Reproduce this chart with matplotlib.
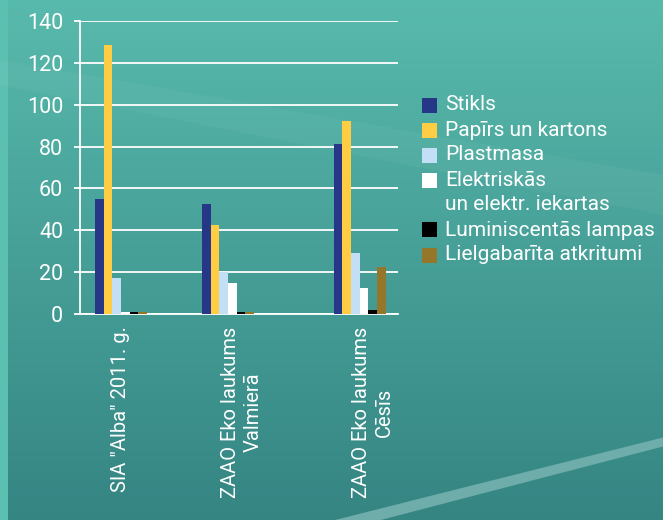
import numpy as np
import matplotlib
matplotlib.use("Agg")
import matplotlib.pyplot as plt
from matplotlib.patches import Rectangle, Polygon
from matplotlib.transforms import offset_copy

plt.rcParams['font.family'] = ['Roboto', 'DejaVu Sans']

categories = ['SIA "Alba" 2011. g.', 'ZAAO Eko laukums\nValmierā', 'ZAAO Eko laukums\nCēsīs']
series = ['Stikls', 'Papīrs un kartons', 'Plastmasa', 'Elektriskās\nun elektr. iekartas',
          'Luminiscentās lampas', 'Lielgabarīta atkritumi']
stikls = [55, 52.5, 81]
papirs = [128.5, 42.5, 92]
plastmasa = [17, 20, 29]
elektr = [1, 15, 12.5]
lampas = [1, 1, 2]
lielgab = [1, 1, 22.5]
yticks = [0, 20, 40, 60, 80, 100, 120, 140]

values = [stikls, papirs, plastmasa, elektr, lampas, lielgab]
colors = ['#253786', '#ffcd44', '#c3dff5', '#ffffff', '#000000', '#94772a']

W, H = 663, 520
fig = plt.figure(figsize=(W / 100, H / 100), dpi=100)

# background: teal gradient + decorations, in pixel coords
bg = fig.add_axes([0, 0, 1, 1], zorder=-10)
top = np.array([88, 186, 172]) / 255
bot = np.array([53, 133, 131]) / 255
t = np.linspace(0, 1, 256)[:, None]
grad = top[None, :] * (1 - t) + bot[None, :] * t
grad = np.repeat(grad[:, None, :], 2, axis=1)
bg.imshow(grad, extent=[0, W, H, 0], aspect='auto')
bg.add_patch(Rectangle((0, 0), 8, H, color='#5cc0b0', lw=0))
bg.add_patch(Polygon([(0, 60), (0, 85), (663, 215), (663, 175)], closed=True,
                     color='white', alpha=0.04, lw=0))
# light swoosh bottom right
cx = [335, 483, 663]
cy = [526, 488, 442]
coef = np.polyfit(cx, cy, 2)
xs = np.linspace(330, 663, 60)
yc = np.polyval(coef, xs)
half = np.linspace(6, 4.5, 60)
pts = list(zip(xs, yc - half)) + list(zip(xs[::-1], (yc + half)[::-1]))
bg.add_patch(Polygon(pts, closed=True, color='#6fadab', lw=0))
bg.set_xlim(0, W)
bg.set_ylim(H, 0)
bg.axis('off')

ax = fig.add_axes([80 / W, 206 / H, 318 / W, 293 / H])
ax.set_facecolor('none')

group_pos = np.array([0.0, 1.0, 2.23])
w = 0.081
for i, (vals, c) in enumerate(zip(values, colors)):
    ax.bar(group_pos + (i - 2.5) * w, vals, width=w, color=c, zorder=3, lw=0)

ax.set_ylim(0, 140)
ax.set_xlim(-0.383, 2.589)
ax.set_yticks(yticks)
ax.set_yticklabels([str(v) for v in yticks], color='white', fontsize=15.5)
ax.tick_params(axis='y', colors='white', length=4, width=1.3, pad=8)
ax.set_xticks([])
ax.yaxis.grid(True, color='white', lw=1.3, zorder=1)
for s in ['top', 'right']:
    ax.spines[s].set_visible(False)
for s in ['left', 'bottom']:
    ax.spines[s].set_color('white')
    ax.spines[s].set_linewidth(1.3)

# first line of each label sits on the group, extra lines go to the right
for x, lab in zip(group_pos, categories):
    n = lab.count('\n')
    tr = offset_copy(ax.transData, fig=fig, x=13.5 * n, y=0, units='dots')
    ax.text(x, -6, lab, rotation=90, ha='center', va='top', color='white',
            fontsize=14.5, multialignment='center', linespacing=1.25, transform=tr)

# legend, drawn by hand so the square sits on the first line
ly = 105
for name, c in zip(series, colors):
    fig.patches.append(Rectangle((422 / W, 1 - (ly + 7.5) / H), 15 / W, 15 / H,
                                 transform=fig.transFigure, color=c, lw=0))
    for line in name.split('\n'):
        fig.text(445 / W, 1 - ly / H, line, color='white', fontsize=15, va='center',
                 ha='left')
        ly += 25

fig.savefig('out.png', dpi=100)
